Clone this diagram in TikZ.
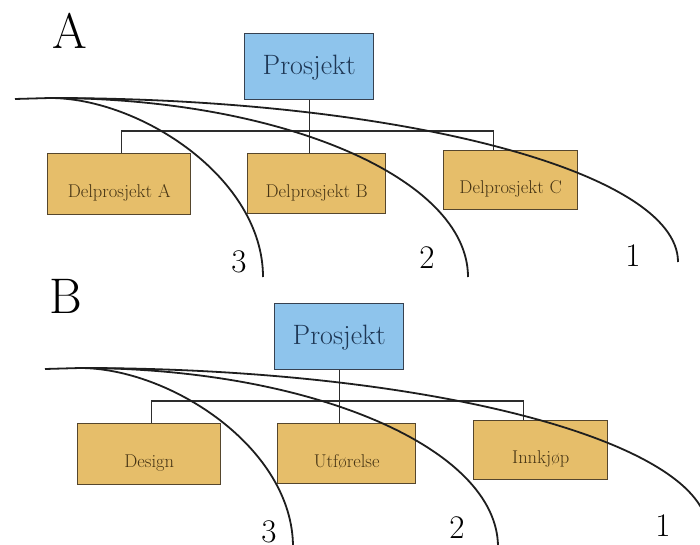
\documentclass[tikz,border=0pt]{standalone}
\usepackage{fontspec}
\usetikzlibrary{calc}

\definecolor{topfill}{RGB}{142,196,236}
\definecolor{topline}{RGB}{55,65,80}
\definecolor{toptext}{RGB}{30,55,85}
\definecolor{subfill}{RGB}{230,190,106}
\definecolor{subline}{RGB}{85,70,45}
\definecolor{subtext}{RGB}{70,52,20}
\definecolor{wirecol}{RGB}{45,45,45}
\definecolor{curvecol}{RGB}{30,30,30}

\tikzset{
  topbox/.style={draw=topline, fill=topfill, line width=1.4pt, anchor=north west,
    inner sep=0pt, minimum width=129pt, minimum height=66pt, text=toptext,
    font=\fontsize{28}{34}\selectfont, text height=16pt, text depth=0pt},
  subbox/.style={draw=subline, fill=subfill, line width=1.4pt, anchor=north west,
    inner sep=0pt, text=subtext, font=\fontsize{18.5}{22}\selectfont,
    text height=27pt, text depth=0pt},
  wire/.style={draw=wirecol, line width=1.2pt},
  curvestroke/.style={draw=curvecol, line width=1.8pt},
  numlabel/.style={font=\fontsize{33}{40}\selectfont, inner sep=0pt},
  panellabel/.style={font=\fontsize{50}{60}\selectfont, inner sep=0pt},
}

% one organisation chart with its three sweeping curves
\newcommand\orgchart[3]{%
  \node[topbox] (p) at (244,33) {Prosjekt};
  \node[subbox, minimum width=143pt, minimum height=61pt] (b1) at (47,153) {#1};
  \node[subbox, minimum width=138pt, minimum height=60pt] (b2) at (247,153) {#2};
  \node[subbox, minimum width=134pt, minimum height=59pt] (b3) at (443,150) {#3};
  \coordinate (bus) at (309,131);
  \draw[wire] ([xshift=2pt]b1.north) |- (bus) -| ([xshift=-17pt]b3.north);
  \draw[wire] (p.south) -- (p.south |- b2.north);
  \coordinate (tail) at (15,99);
  \coordinate (o) at (50,98);
  \coordinate (e3) at (263,277);
  \coordinate (e2) at (468,277);
  \coordinate (e1) at (678,262);
  \draw[curvestroke] (tail) -- (o);
  \draw[curvestroke] (o) .. controls (140,98) and (263,178) .. (e3);
  \draw[curvestroke] (o) .. controls (281,98) and (468,178) .. (e2);
  \draw[curvestroke] (o) .. controls (397,98) and (678,171) .. (e1);
  \node[numlabel] (n3) at (239,262) {3};
  \node[numlabel] (n2) at (427,258) {2};
  \node[numlabel] (n1) at (633,256) {1};
}

\begin{document}
\begin{tikzpicture}[x=1pt, y=-1pt]
  \useasboundingbox (0,0) rectangle (700,545);
  \clip (0,0) rectangle (700,545);
  \fill[white] (0,0) rectangle (700,545);

  \node[panellabel] (labA) at (70,31) {A};
  \node[panellabel] (labB) at (66,296) {B};

  \begin{scope}[name prefix=a-]
    \orgchart{Delprosjekt A}{Delprosjekt B}{Delprosjekt C}
  \end{scope}
  \begin{scope}[shift={(30,270)}, name prefix=b-]
    \orgchart{Design}{Utførelse}{Innkjøp}
  \end{scope}
\end{tikzpicture}
\end{document}
